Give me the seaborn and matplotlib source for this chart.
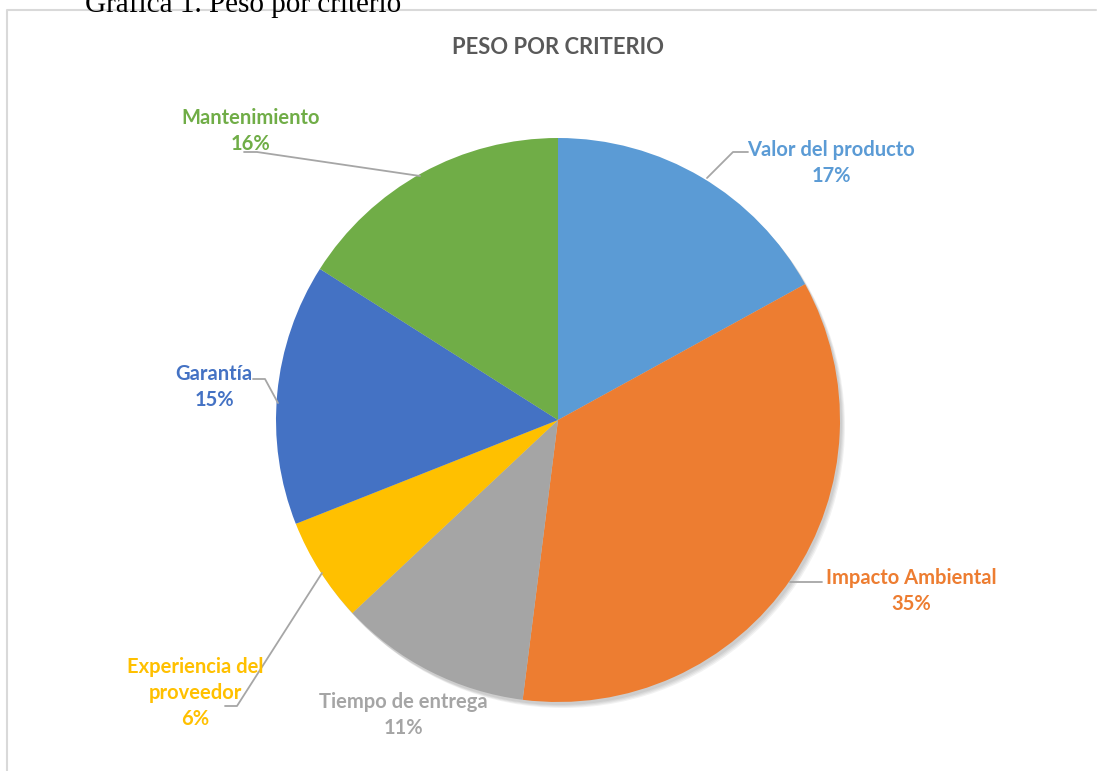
import matplotlib
matplotlib.use('Agg')
import matplotlib.pyplot as plt
import seaborn as sns
from matplotlib.patches import Circle

# Datos del gráfico
criterios = ['Valor del producto', 'Impacto Ambiental', 'Tiempo de entrega',
             'Experiencia del\nproveedor', 'Garantía', 'Mantenimiento']
pesos = [17, 35, 11, 6, 15, 16]
colores = ['#5B9BD5', '#ED7D31', '#A5A5A5', '#FFC000', '#4472C4', '#70AD47']

sns.set_theme(style='white')
plt.rcParams['font.family'] = ['Lato', 'DejaVu Sans']

W, H = 1097, 771
CX, CY, R = 558, 420, 282  # centro y radio del pastel en pixeles

fig = plt.figure(figsize=(W / 100, H / 100), dpi=100)
ax = fig.add_axes([0, 0, 1, 1])


def px(x, y):
    # pixeles de la imagen -> coordenadas de datos
    return (x - CX) / R, (CY - y) / R


# sombra suave del pastel
for i in range(4):
    ax.add_patch(Circle(px(CX + 2 + i, CY + 3 + i), 1.0, color='black', alpha=0.05, lw=0, zorder=0))

wedges, _ = ax.pie(pesos, colors=colores, startangle=90, counterclock=False,
                   radius=1, center=(0, 0), wedgeprops=dict(linewidth=0))
for w in wedges:
    w.set_zorder(2)

# pie() cambia los límites, se fijan después
ax.set_xlim(-CX / R, (W - CX) / R)
ax.set_ylim(-(H - CY) / R, CY / R)
ax.set_aspect('equal')
ax.axis('off')

# etiquetas: posición del texto y línea guía en pixeles
etiquetas = [
    ((831, 163), [(748, 152), (733, 152), (707, 178)]),
    ((911, 591), [(822, 582), (790, 582)]),
    ((403, 715), None),
    ((195, 693), [(225, 706), (237, 706), (322, 573)]),
    ((214, 387), [(253, 379), (265, 379), (278, 403)]),
    ((251, 131), [(244, 152), (257, 152), (420, 176)]),
]
for nombre, p, c, (pos, guia) in zip(criterios, pesos, colores, etiquetas):
    ax.text(*px(*pos), f'{nombre}\n{p}%', color=c, fontsize=14.5, fontweight='bold',
            ha='center', va='center', linespacing=1.4, zorder=5)
    if guia:
        xs, ys = zip(*[px(*g) for g in guia])
        ax.plot(xs, ys, color='#A6A6A6', lw=1.3, zorder=3)

ax.text(*px(558, 47), 'PESO POR CRITERIO', color='#595959', fontsize=15.8,
        fontweight='bold', ha='center', va='center')

# borde del área del gráfico
ax.plot(*zip(px(7, 771), px(7, 9.5), px(1096, 9.5)), color='#D9D9D9', lw=1.5, zorder=1)

# título del documento (cortado arriba)
fig.text(85 / W, 1 - 12 / H, 'Gráfica 1. Peso por criterio', fontsize=21,
         family='Liberation Serif', color='black', ha='left', va='baseline')

fig.savefig('out.png', dpi=100, facecolor='white')
